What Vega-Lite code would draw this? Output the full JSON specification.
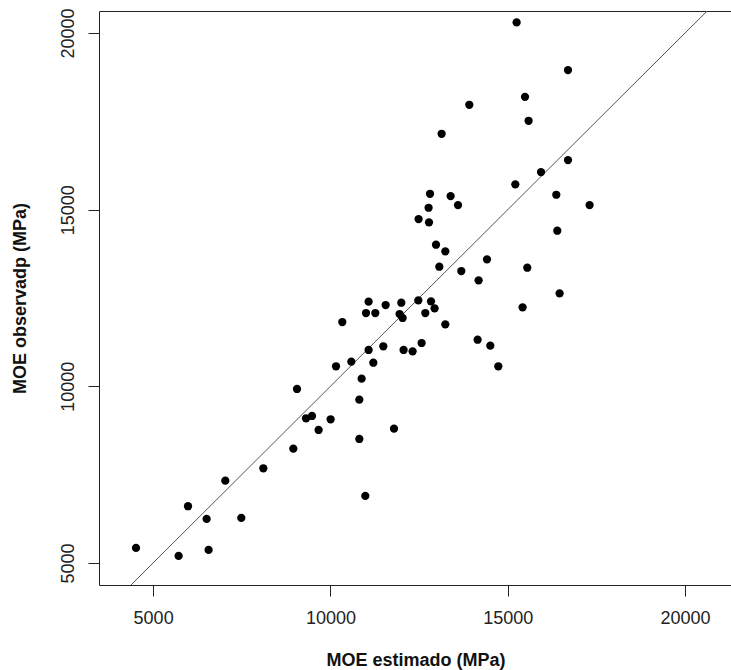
{
  "$schema": "https://vega.github.io/schema/vega-lite/v6.json",
  "autosize": "none",
  "width": 633,
  "height": 574,
  "padding": {"left": 99, "top": 11, "right": 0, "bottom": 85},
  "background": "white",
  "config": {
    "view": {"stroke": "#222", "strokeWidth": 1},
    "font": "Liberation Sans",
    "axis": {
      "grid": false,
      "domain": false,
      "ticks": true,
      "tickSize": 11,
      "tickColor": "#222",
      "labelFont": "Liberation Sans",
      "labelFontSize": 18,
      "labelColor": "#222",
      "titleFont": "Liberation Sans",
      "titleFontSize": 18,
      "titleFontWeight": "bold",
      "titleColor": "#111"
    }
  },
  "datasets": {
    "pts": [
      {"est": 4518, "obs": 5425}, {"est": 5719, "obs": 5198}, {"est": 5984, "obs": 6605}, {"est": 6509, "obs": 6245},
      {"est": 6565, "obs": 5368}, {"est": 7036, "obs": 7329}, {"est": 7487, "obs": 6274}, {"est": 8108, "obs": 7680},
      {"est": 11077, "obs": 12395}, {"est": 11557, "obs": 12301}, {"est": 11999, "obs": 12366}, {"est": 12479, "obs": 12434},
      {"est": 12837, "obs": 12406}, {"est": 12938, "obs": 12208}, {"est": 11004, "obs": 12075}, {"est": 11266, "obs": 12075},
      {"est": 11951, "obs": 12047}, {"est": 12036, "obs": 11934}, {"est": 12676, "obs": 12075}, {"est": 10335, "obs": 11820},
      {"est": 13240, "obs": 11755}, {"est": 11492, "obs": 11133}, {"est": 11077, "obs": 11028}, {"est": 12064, "obs": 11028},
      {"est": 12318, "obs": 10991}, {"est": 12572, "obs": 11226}, {"est": 10589, "obs": 10697}, {"est": 11210, "obs": 10668},
      {"est": 10158, "obs": 10567}, {"est": 10880, "obs": 10216}, {"est": 9058, "obs": 9924}, {"est": 10815, "obs": 9621},
      {"est": 9312, "obs": 9095}, {"est": 9481, "obs": 9160}, {"est": 10006, "obs": 9067}, {"est": 9667, "obs": 8764},
      {"est": 11793, "obs": 8801}, {"est": 10815, "obs": 8509}, {"est": 8954, "obs": 8235}, {"est": 10984, "obs": 6896},
      {"est": 16463, "obs": 12633}, {"est": 15420, "obs": 12236}, {"est": 14151, "obs": 11319}, {"est": 14509, "obs": 11150},
      {"est": 14735, "obs": 10567}, {"est": 15251, "obs": 20302}, {"est": 16700, "obs": 18952}, {"est": 13917, "obs": 17970},
      {"est": 15488, "obs": 18196}, {"est": 15589, "obs": 17517}, {"est": 13136, "obs": 17149}, {"est": 16700, "obs": 16405},
      {"est": 15939, "obs": 16065}, {"est": 15214, "obs": 15717}, {"est": 12809, "obs": 15451}, {"est": 13390, "obs": 15386},
      {"est": 16370, "obs": 15423}, {"est": 13598, "obs": 15131}, {"est": 17309, "obs": 15131}, {"est": 12769, "obs": 15055},
      {"est": 12487, "obs": 14735}, {"est": 12780, "obs": 14642}, {"est": 16398, "obs": 14404}, {"est": 12978, "obs": 14008},
      {"est": 13240, "obs": 13821}, {"est": 14416, "obs": 13595}, {"est": 13071, "obs": 13385}, {"est": 13691, "obs": 13264},
      {"est": 15552, "obs": 13357}, {"est": 14179, "obs": 13000}
    ],
    "ref": [
      {"est": 3000, "obs": 3000},
      {"est": 22000, "obs": 22000}
    ]
  },
  "layer": [
    {
      "data": {"name": "ref"},
      "mark": {"type": "line", "color": "#555", "strokeWidth": 1, "clip": true},
      "encoding": {
        "x": {"field": "est", "type": "quantitative"},
        "y": {"field": "obs", "type": "quantitative"}
      }
    },
    {
      "data": {"name": "pts"},
      "mark": {"type": "circle", "color": "#000", "opacity": 1, "size": 68},
      "encoding": {
        "x": {
          "field": "est",
          "type": "quantitative",
          "title": "MOE estimado (MPa)",
          "scale": {"domain": [3474, 21325], "nice": false, "zero": false},
          "axis": {"values": [5000, 10000, 15000, 20000], "labelPadding": 13, "titlePadding": 24, "format": "d"}
        },
        "y": {
          "field": "obs",
          "type": "quantitative",
          "title": "MOE observadp (MPa)",
          "scale": {"domain": [4375, 20625], "nice": false, "zero": false},
          "axis": {"values": [5000, 10000, 15000, 20000], "labelAngle": -90, "labelAlign": "center", "labelBaseline": "bottom", "labelPadding": 11, "titlePadding": 30, "format": "d"}
        }
      }
    }
  ]
}
